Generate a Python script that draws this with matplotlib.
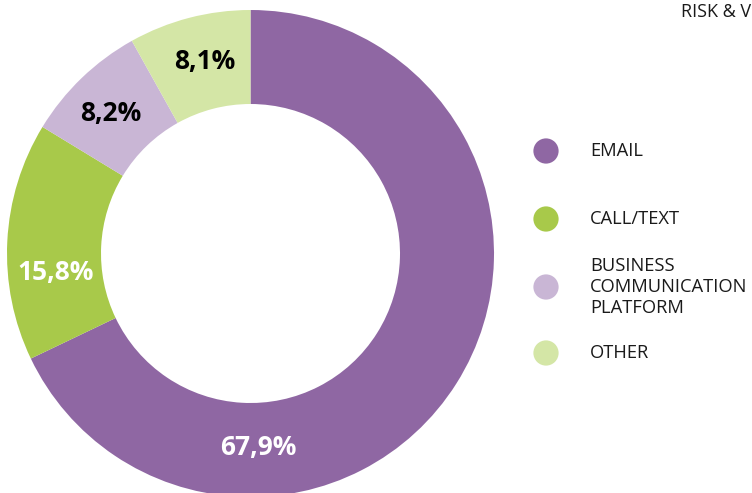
import numpy as np
import matplotlib.pyplot as plt

plt.rcParams['font.family'] = ['Open Sans', 'DejaVu Sans']

labels = ["EMAIL", "CALL/TEXT", "BUSINESS\nCOMMUNICATION\nPLATFORM", "OTHER"]
values = [67.9, 15.8, 8.2, 8.1]
pct_text = ["67,9%", "15,8%", "8,2%", "8,1%"]
colors = ["#8F67A3", "#A8C94A", "#C9B6D5", "#D4E6A6"]
txt_colors = ["white", "white", "black", "black"]
# where the value labels sit (degrees, radius in px) - placed by hand in the original
lab_ang = [-87.8, 185.7, 135.0, 103.4]
lab_r = [194, 196, 198, 197]

W, H = 752, 493
fig = plt.figure(figsize=(W / 100, H / 100), dpi=100)
ax = fig.add_axes([0, 0, 1, 1])

cx, cy = 250.5, H - 253.5
R = 243.5
ax.pie(values, colors=colors, startangle=90, counterclock=False,
       radius=R, center=(cx, cy), wedgeprops=dict(width=94, linewidth=0))

for t, c, a, r in zip(pct_text, txt_colors, lab_ang, lab_r):
    x = cx + r * np.cos(np.radians(a))
    y = cy + r * np.sin(np.radians(a))
    ax.text(x, y, t, color=c, fontsize=19, fontweight='bold',
            ha='center', va='center')

# legend
leg_y = [H - 151, H - 219, H - 287, H - 353]
ax.scatter([546] * 4, leg_y, s=330, c=colors, linewidths=0, zorder=3)
for lab, y in zip(labels, leg_y):
    ax.text(590, y, lab, fontsize=13.2, ha='left', va='center',
            color='#1a1a1a', linespacing=1.2)

# page header, cut by the crop in the original
ax.text(751, H - 12, "RISK & V", fontsize=13, ha='right',
        va='center', color='#1a1a1a')

ax.set_xlim(0, W)
ax.set_ylim(0, H)
ax.set_aspect('equal')
ax.axis('off')

fig.savefig("out.png", dpi=100)
